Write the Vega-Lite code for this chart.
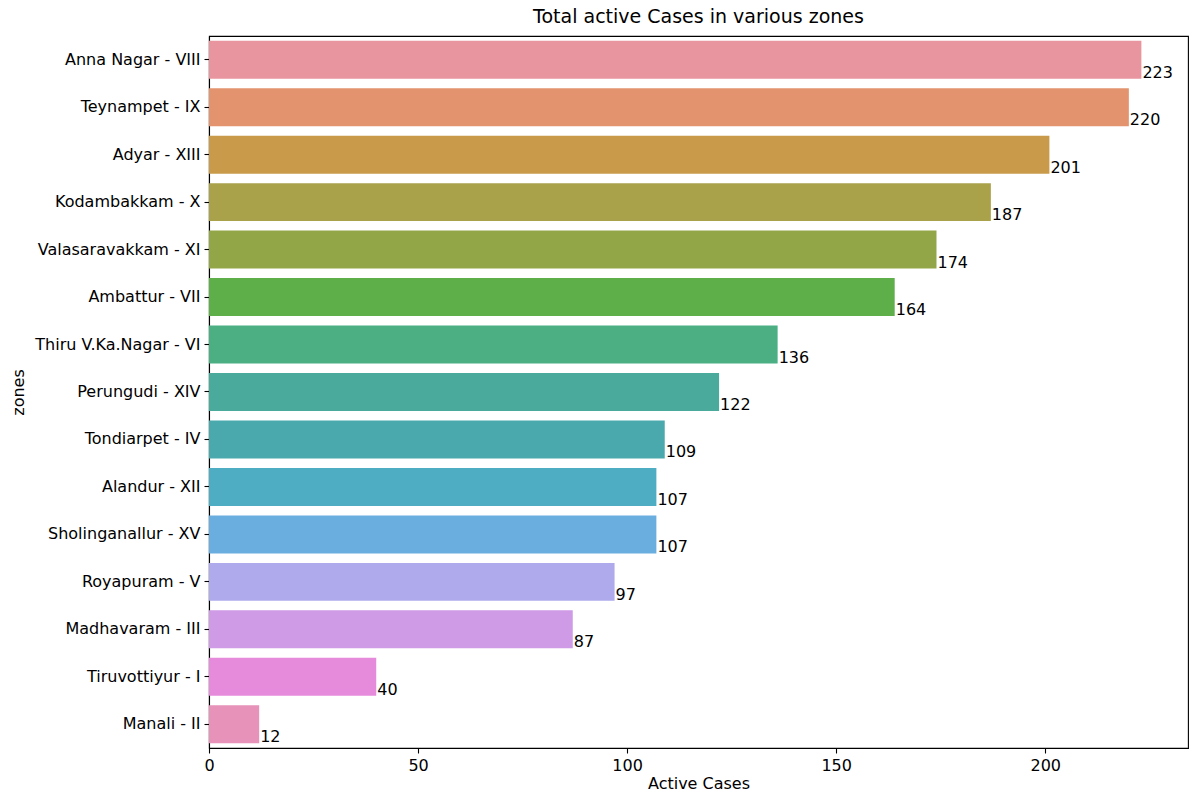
{
  "$schema": "https://vega.github.io/schema/vega-lite/v6.json",
  "autosize": {"type": "none"},
  "padding": {"left": 209, "top": 36, "right": 12, "bottom": 55},
  "width": 979,
  "height": 712,
  "background": "white",
  "config": {
    "font": "DejaVu Sans",
    "view": {"stroke": "black", "strokeWidth": 1.1},
    "axis": {"grid": false, "domainColor": "black", "tickColor": "black", "labelColor": "black", "titleColor": "black", "labelFontSize": 16, "titleFontSize": 16, "titleFontWeight": "normal", "tickSize": 5, "labelPadding": 4, "domainWidth": 1.1, "tickWidth": 1.1, "labelFlush": false}
  },
  "title": {"text": "Total active Cases in various zones", "fontSize": 19, "fontWeight": "normal", "color": "black", "anchor": "middle", "offset": 9},
  "data": {"values": [
    {"zone": "Anna Nagar - VIII", "cases": 223, "color": "#e8959f"},
    {"zone": "Teynampet - IX", "cases": 220, "color": "#e3936e"},
    {"zone": "Adyar - XIII", "cases": 201, "color": "#c89a4a"},
    {"zone": "Kodambakkam - X", "cases": 187, "color": "#a9a24b"},
    {"zone": "Valasaravakkam - XI", "cases": 174, "color": "#93a647"},
    {"zone": "Ambattur - VII", "cases": 164, "color": "#5eae4a"},
    {"zone": "Thiru V.Ka.Nagar - VI", "cases": 136, "color": "#4baf83"},
    {"zone": "Perungudi - XIV", "cases": 122, "color": "#4aab9c"},
    {"zone": "Tondiarpet - IV", "cases": 109, "color": "#4aa9ac"},
    {"zone": "Alandur - XII", "cases": 107, "color": "#4fadc3"},
    {"zone": "Sholinganallur - XV", "cases": 107, "color": "#6aaee0"},
    {"zone": "Royapuram - V", "cases": 97, "color": "#aeaaec"},
    {"zone": "Madhavaram - III", "cases": 87, "color": "#cf9ae6"},
    {"zone": "Tiruvottiyur - I", "cases": 40, "color": "#e68bdc"},
    {"zone": "Manali - II", "cases": 12, "color": "#e692b9"}
  ]},
  "encoding": {
    "y": {"field": "zone", "type": "nominal", "sort": null, "title": "zones",
      "scale": {"paddingInner": 0.2, "paddingOuter": 0.1},
      "axis": {"titlePadding": 8}},
    "x": {"field": "cases", "type": "quantitative", "title": "Active Cases",
      "scale": {"domain": [0, 234.15], "nice": false, "zero": true},
      "axis": {"values": [0, 50, 100, 150, 200], "titlePadding": 2}}
  },
  "layer": [
    {"mark": {"type": "bar"}, "encoding": {"color": {"field": "color", "type": "nominal", "scale": null}}},
    {"mark": {"type": "text", "align": "left", "baseline": "alphabetic", "dx": 1, "dy": 18, "fontSize": 16, "color": "black"},
      "encoding": {"text": {"field": "cases", "type": "quantitative"}}}
  ]
}
